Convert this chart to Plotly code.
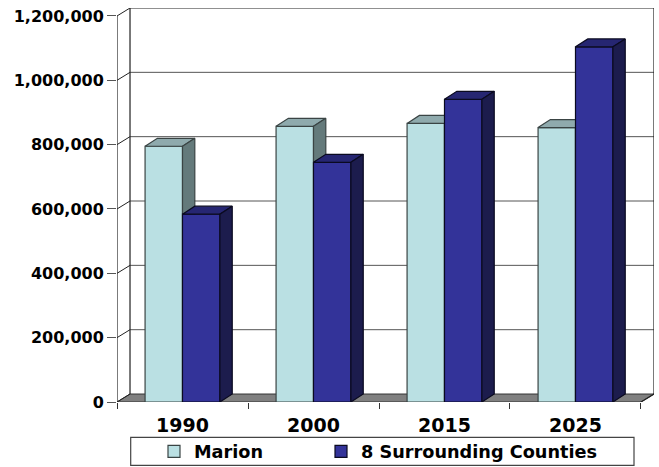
import plotly.graph_objects as go

# Population by year
years = ["1990", "2000", "2015", "2025"]
marion = [795000, 857000, 866000, 853000]
surrounding = [584000, 745000, 941000, 1104000]
y_ticks = [0, 200000, 400000, 600000, 800000, 1000000, 1200000]
y_labels = ["0", "200,000", "400,000", "600,000", "800,000", "1,000,000", "1,200,000"]

# Fake-3D projection: how far the depth axis shifts things, in axis units
WALL_DX = 0.0993
WALL_DY = 24800
BAR_DX = 0.094
BAR_DY = 24800
BAR_W = 0.2857

FONT = "DejaVu Sans"
Y_TOP = y_ticks[-1] + WALL_DY
X_RIGHT = len(years) + WALL_DX
centres = [i + 0.5 for i in range(len(years))]
boundaries = list(range(len(years) + 1))

fig = go.Figure()


def polyline(segments, color, width, axes=("x", "y"), fill=None, fillcolor=None):
    xs, ys = [], []
    for seg in segments:
        xs += [p[0] for p in seg] + [None]
        ys += [p[1] for p in seg] + [None]
    fig.add_trace(go.Scatter(
        x=xs, y=ys, mode="lines", line=dict(color=color, width=width),
        fill=fill, fillcolor=fillcolor, xaxis=axes[0], yaxis=axes[1],
        cliponaxis=False, showlegend=False, hoverinfo="skip",
    ))


# Floor
polyline([[(0, 0), (WALL_DX, WALL_DY), (X_RIGHT, WALL_DY), (len(years), 0), (0, 0)]],
         "#333333", 1, fill="toself", fillcolor="#808080")
# Back wall gridlines
polyline([[(WALL_DX, WALL_DY + v), (X_RIGHT, WALL_DY + v)] for v in y_ticks[1:-1]], "#555555", 1)
# Back wall outline and left wall edges
polyline([[(WALL_DX, WALL_DY), (WALL_DX, Y_TOP), (X_RIGHT, Y_TOP), (X_RIGHT, WALL_DY)],
          [(0, 0), (0, y_ticks[-1])],
          [(len(years), 0), (X_RIGHT, WALL_DY)]], "#222222", 1.2)
polyline([[(0, v), (WALL_DX, WALL_DY + v)] for v in y_ticks], "#222222", 1)


def add_series(name, values, offset, front, top, side, edge, axes, legend):
    fig.add_trace(go.Bar(
        x=centres, y=values, name=name, width=BAR_W, offset=offset,
        marker=dict(color=front, line=dict(color=edge, width=1.2)),
        xaxis=axes[0], yaxis=axes[1], hoverinfo="skip", legend=legend,
    ))
    for i, v in enumerate(values):
        x0 = centres[i] + offset
        x1 = x0 + BAR_W
        polyline([[(x0, v), (x0 + BAR_DX, v + BAR_DY), (x1 + BAR_DX, v + BAR_DY), (x1, v), (x0, v)]],
                 edge, 1.2, axes, "toself", top)
        polyline([[(x1, 0), (x1 + BAR_DX, BAR_DY), (x1 + BAR_DX, v + BAR_DY), (x1, v), (x1, 0)]],
                 edge, 1.2, axes, "toself", side)


# Each series sits on its own overlay so the right-hand bar hides its neighbour's side face
add_series("Marion", marion, -BAR_W, "#BAE0E3", "#8FAAAD", "#647A7B", "#3A4444", ("x2", "y2"), "legend")
add_series("8 Surrounding Counties", surrounding, 0, "#333399", "#262672", "#1C1C4D", "#0A0A20", ("x3", "y3"), "legend2")

PLOT_H = 467 - 7.7 - 64.5
PLOT_W = 659 - 117 - 5
legend_box = dict(
    type="rect", xref="paper", yref="paper",
    x0=(130.7 - 117) / PLOT_W, x1=(634 - 117) / PLOT_W,
    y0=(402.5 - 466) / PLOT_H, y1=(402.5 - 438) / PLOT_H,
    line=dict(color="#444444", width=1.2), fillcolor="white", layer="below",
)


def legend_at(left_px):
    return dict(
        orientation="h", x=(left_px - 117) / PLOT_W, xanchor="left",
        y=(402.5 - 434) / PLOT_H, yanchor="top",
        bgcolor="rgba(0,0,0,0)", borderwidth=0,
        font=dict(family=FONT, size=17.7, weight="bold"),
    )


overlay = dict(visible=False, fixedrange=True)
fig.update_layout(
    width=659, height=467, autosize=False,
    margin=dict(l=117, r=5, t=7.7, b=64.5, autoexpand=False),
    paper_bgcolor="white", plot_bgcolor="white",
    barmode="overlay",
    font=dict(family=FONT, color="#000000"),
    shapes=[legend_box],
    xaxis=dict(
        range=[0, X_RIGHT], tickmode="array", tickvals=centres, ticktext=years,
        ticks="", showgrid=False, zeroline=False, showline=False, ticklabelstandoff=10,
        tickfont=dict(family=FONT, size=19, weight="bold"),
        minor=dict(tickmode="array", tickvals=boundaries, ticks="outside", ticklen=6,
                   tickcolor="#333333", tickwidth=1, showgrid=False),
    ),
    yaxis=dict(
        range=[0, Y_TOP], tickmode="array", tickvals=y_ticks, ticktext=y_labels,
        ticks="outside", ticklen=9, tickcolor="#555555", tickwidth=1,
        showgrid=False, zeroline=False, showline=False,
        tickfont=dict(family=FONT, size=16, weight="bold"),
    ),
    xaxis2=dict(range=[0, X_RIGHT], overlaying="x", **overlay),
    yaxis2=dict(range=[0, Y_TOP], overlaying="y", **overlay),
    xaxis3=dict(range=[0, X_RIGHT], overlaying="x", **overlay),
    yaxis3=dict(range=[0, Y_TOP], overlaying="y", **overlay),
    legend=legend_at(154),
    legend2=legend_at(321),
)

fig.write_html("out.html")
